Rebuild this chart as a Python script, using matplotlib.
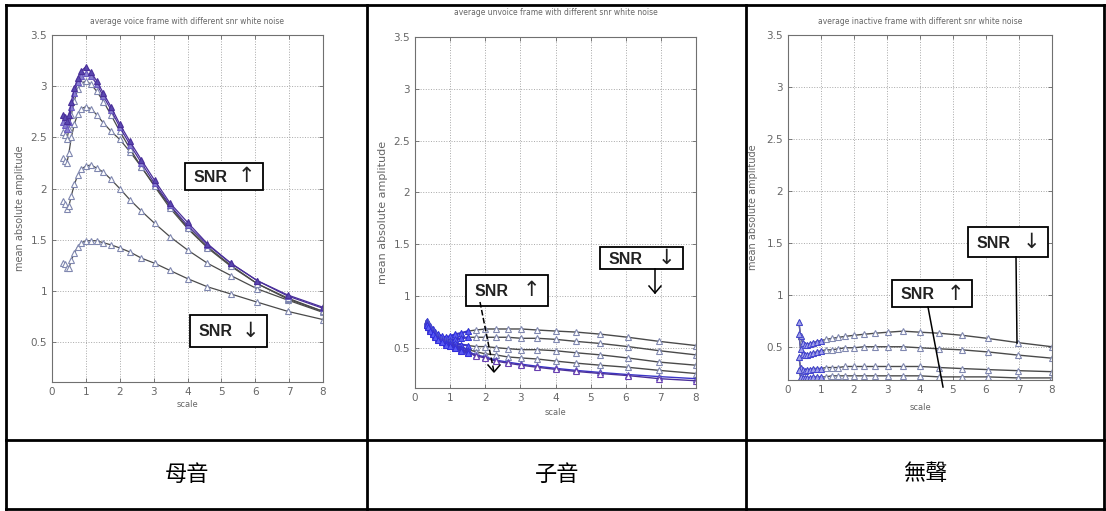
import matplotlib
matplotlib.use("Agg")
import matplotlib.pyplot as plt
from matplotlib.patches import Rectangle

W, H = 1106, 511

# scale points (same for all panels)
scale = [0.33, 0.38, 0.44, 0.5, 0.57, 0.66, 0.76, 0.87, 1.0, 1.15, 1.32, 1.52,
         1.74, 2.0, 2.3, 2.64, 3.03, 3.48, 4.0, 4.59, 5.28, 6.06, 6.96, 8.0]

# voiced frame, high SNR -> low SNR
voice_1 = [2.72, 2.70, 2.66, 2.72, 2.85, 2.98, 3.08, 3.15, 3.19, 3.14, 3.05, 2.93,
           2.80, 2.63, 2.46, 2.28, 2.08, 1.86, 1.67, 1.46, 1.27, 1.10, 0.96, 0.84]
voice_2 = [2.65, 2.62, 2.58, 2.65, 2.80, 2.93, 3.04, 3.10, 3.13, 3.10, 3.02, 2.90,
           2.77, 2.60, 2.43, 2.25, 2.05, 1.84, 1.64, 1.45, 1.27, 1.10, 0.95, 0.83]
voice_3 = [2.55, 2.52, 2.48, 2.58, 2.72, 2.86, 2.97, 3.03, 3.05, 3.02, 2.95, 2.85,
           2.72, 2.56, 2.39, 2.21, 2.02, 1.81, 1.61, 1.42, 1.24, 1.07, 0.93, 0.80]
voice_4 = [2.30, 2.27, 2.25, 2.35, 2.50, 2.63, 2.73, 2.78, 2.80, 2.78, 2.72, 2.64,
           2.56, 2.48, 2.36, 2.21, 2.03, 1.83, 1.62, 1.43, 1.25, 1.07, 0.92, 0.80]
voice_5 = [1.88, 1.85, 1.80, 1.83, 1.93, 2.04, 2.13, 2.19, 2.22, 2.23, 2.20, 2.16,
           2.09, 2.00, 1.89, 1.78, 1.66, 1.53, 1.40, 1.27, 1.15, 1.02, 0.91, 0.79]
voice_6 = [1.27, 1.26, 1.22, 1.22, 1.30, 1.37, 1.43, 1.47, 1.49, 1.49, 1.49, 1.47,
           1.45, 1.42, 1.38, 1.32, 1.27, 1.20, 1.12, 1.04, 0.97, 0.89, 0.80, 0.72]

# unvoiced frame, low SNR (top) -> high SNR (bottom)
unvoice_1 = [0.76, 0.74, 0.71, 0.68, 0.65, 0.63, 0.61, 0.60, 0.61, 0.63, 0.64, 0.66,
             0.67, 0.68, 0.68, 0.68, 0.68, 0.67, 0.66, 0.65, 0.63, 0.60, 0.56, 0.52]
unvoice_2 = [0.75, 0.73, 0.69, 0.66, 0.63, 0.60, 0.58, 0.57, 0.57, 0.58, 0.59, 0.60,
             0.60, 0.60, 0.60, 0.60, 0.59, 0.59, 0.58, 0.56, 0.54, 0.51, 0.47, 0.43]
unvoice_3 = [0.74, 0.72, 0.68, 0.65, 0.62, 0.59, 0.57, 0.56, 0.55, 0.54, 0.53, 0.52,
             0.51, 0.51, 0.50, 0.49, 0.48, 0.48, 0.47, 0.45, 0.43, 0.40, 0.36, 0.33]
unvoice_4 = [0.73, 0.71, 0.67, 0.64, 0.61, 0.58, 0.56, 0.55, 0.54, 0.52, 0.50, 0.48,
             0.46, 0.44, 0.43, 0.41, 0.40, 0.39, 0.37, 0.35, 0.33, 0.31, 0.28, 0.25]
unvoice_5 = [0.72, 0.70, 0.67, 0.64, 0.61, 0.58, 0.56, 0.54, 0.53, 0.51, 0.48, 0.46,
             0.43, 0.41, 0.38, 0.36, 0.34, 0.32, 0.30, 0.28, 0.26, 0.24, 0.22, 0.20]
unvoice_6 = [0.72, 0.70, 0.66, 0.63, 0.60, 0.57, 0.55, 0.53, 0.52, 0.50, 0.47, 0.45,
             0.42, 0.40, 0.37, 0.35, 0.33, 0.31, 0.29, 0.27, 0.25, 0.23, 0.20, 0.18]

# inactive frame, low SNR (top) -> high SNR (bottom)
inactive_1 = [0.74, 0.60, 0.54, 0.52, 0.52, 0.53, 0.54, 0.55, 0.56, 0.57, 0.58, 0.59,
              0.60, 0.61, 0.62, 0.63, 0.64, 0.65, 0.64, 0.63, 0.61, 0.58, 0.54, 0.50]
inactive_2 = [0.62, 0.48, 0.43, 0.42, 0.42, 0.43, 0.44, 0.45, 0.46, 0.47, 0.47, 0.48,
              0.49, 0.49, 0.50, 0.50, 0.50, 0.50, 0.49, 0.48, 0.47, 0.45, 0.42, 0.39]
inactive_3 = [0.40, 0.30, 0.28, 0.27, 0.28, 0.28, 0.29, 0.29, 0.29, 0.30, 0.30, 0.30,
              0.31, 0.31, 0.31, 0.31, 0.31, 0.31, 0.31, 0.30, 0.29, 0.28, 0.27, 0.26]
inactive_4 = [0.28, 0.21, 0.20, 0.20, 0.20, 0.20, 0.21, 0.21, 0.21, 0.21, 0.22, 0.22,
              0.22, 0.22, 0.22, 0.22, 0.22, 0.22, 0.22, 0.21, 0.21, 0.21, 0.20, 0.20]

titles = ["average voice frame with different snr white noise",
          "average unvoice frame with different snr white noise",
          "average inactive frame with different snr white noise"]
captions = ["母音", "子音", "無聲"]

GRAY = "#4a4a4a"
MK = "#8088b0"
BLUE = "#3b35c8"
PURPLE = "#4a2f9a"
TXT = "#666666"

fig = plt.figure(figsize=(W / 100, H / 100), dpi=100)
fig.patch.set_facecolor("white")


def px_axes(left, top, right, bottom):
    return fig.add_axes([left / W, 1 - bottom / H, (right - left) / W, (bottom - top) / H])


def style(ax, ylow, title, title_pad, xl_pad, yl_pad):
    ax.set_xlim(0, 8)
    ax.set_ylim(ylow, 3.5)
    ax.set_xticks(range(0, 9))
    ax.set_yticks([0.5, 1, 1.5, 2, 2.5, 3, 3.5])
    ax.set_yticklabels(["0.5", "1", "1.5", "2", "2.5", "3", "3.5"])
    ax.grid(True, linestyle=":", color="#a8a8a8", linewidth=0.7)
    ax.tick_params(direction="in", top=True, right=True, labelsize=7.5,
                   colors=TXT, length=3, width=0.6)
    for s in ax.spines.values():
        s.set_color("#707070")
        s.set_linewidth(0.8)
    ax.set_title(title, fontsize=5.5, color=TXT, pad=title_pad)
    ax.set_xlabel("scale", fontsize=6, color=TXT, labelpad=xl_pad)
    ax.set_ylabel("mean absolute amplitude", fontsize=7, color=TXT, labelpad=yl_pad)


# panel 1: voiced
ax1 = px_axes(52, 35, 323, 382)
for ys, lc, mc, mf in [(voice_6, GRAY, MK, "white"), (voice_5, GRAY, MK, "white"),
                       (voice_4, GRAY, MK, "white"), (voice_3, GRAY, MK, "white"),
                       (voice_2, PURPLE, "#6a5ac0", "#8a80d0"), (voice_1, PURPLE, PURPLE, "#5a48b0")]:
    ax1.plot(scale, ys, color=lc, linewidth=0.9, marker="^", markersize=4.5,
             markeredgecolor=mc, markerfacecolor=mf, markeredgewidth=0.8)
style(ax1, 0.11, titles[0], 8, 2, 4)

# panel 2: unvoiced
ax2 = px_axes(415, 37, 696, 388)
for ys, lc, mc in [(unvoice_1, GRAY, MK), (unvoice_2, GRAY, MK), (unvoice_3, GRAY, MK),
                   (unvoice_4, GRAY, MK), (unvoice_5, BLUE, "#5050c0"), (unvoice_6, PURPLE, "#6a40b0")]:
    ax2.plot(scale, ys, color=lc, linewidth=1.0, marker="^", markersize=4.5,
             markeredgecolor=mc, markerfacecolor="white", markeredgewidth=0.8)
    ax2.plot(scale[:12], ys[:12], color=BLUE, linewidth=1.5, marker="^", markersize=4.5,
             markeredgecolor="#2a2ae0", markerfacecolor="#5a5af0", markeredgewidth=0.6)
style(ax2, 0.11, titles[1], 16, 4, 4)
ax2.yaxis.label.set_fontsize(8)

# panel 3: inactive
ax3 = px_axes(788, 35, 1052, 380)
for ys in [inactive_1, inactive_2, inactive_3, inactive_4]:
    ax3.plot(scale, ys, color=GRAY, linewidth=1.0, marker="^", markersize=4.5,
             markeredgecolor=MK, markerfacecolor="white", markeredgewidth=0.8)
    ax3.plot(scale[:9], ys[:9], color="#6060b0", linewidth=1.0, marker="^", markersize=4.5,
             markeredgecolor="#3a3ad0", markerfacecolor="#a0a0e8", markeredgewidth=0.6)
style(ax3, 0.18, titles[2], 8, 6, 6)

# overlay in pixel coordinates: table lines, annotation boxes, captions
ov = fig.add_axes([0, 0, 1, 1], zorder=10)
ov.set_xlim(0, W)
ov.set_ylim(H, 0)
ov.axis("off")
ov.patch.set_alpha(0)

lw = 2.0
for x in (6, 367, 746, 1104):
    ov.plot([x, x], [5, 509], color="black", linewidth=lw, solid_capstyle="projecting")
for y in (5, 440, 509):
    ov.plot([6, 1104], [y, y], color="black", linewidth=lw, solid_capstyle="projecting")

cap_x = [187, 557, 925]
for cx, t in zip(cap_x, captions):
    ov.text(cx, 474, t, fontsize=16, ha="center", va="center",
            family=["Noto Sans CJK TC", "DejaVu Sans"])


def snr_box(x0, y0, x1, y1, arrow):
    ov.add_patch(Rectangle((x0, y0), x1 - x0, y1 - y0, facecolor="white",
                           edgecolor="black", linewidth=1.3))
    cy = (y0 + y1) / 2
    ov.text(x0 + 9, cy + 1, "SNR", fontsize=11.5, fontweight="bold",
            ha="left", va="center", family=["Liberation Sans", "DejaVu Sans"],
            color="#222222")
    ov.text(x1 - 17, cy, arrow, fontsize=15, ha="center", va="center",
            family=["DejaVu Sans"], color="#222222")


def pointer(x0, y0, x1, y1, head=False, ls="-"):
    ov.plot([x0, x1], [y0, y1], color="black", linewidth=1.1, linestyle=ls)
    if head:
        ov.plot([x1 - 6, x1, x1 + 6], [y1 - 7, y1, y1 - 7], color="black", linewidth=1.1)


snr_box(185, 163, 263, 190, "↑")
snr_box(190, 315, 267, 347, "↓")

pointer(480, 302, 494, 372, head=True, ls="--")
pointer(655, 269, 655, 293, head=True)
snr_box(466, 275, 548, 306, "↑")
snr_box(600, 247, 683, 269, "↓")

pointer(928, 307, 943, 387)
pointer(1016, 257, 1017, 343)
snr_box(892, 280, 972, 307, "↑")
snr_box(968, 227, 1048, 257, "↓")

fig.savefig("out.png", dpi=100, facecolor="white")
